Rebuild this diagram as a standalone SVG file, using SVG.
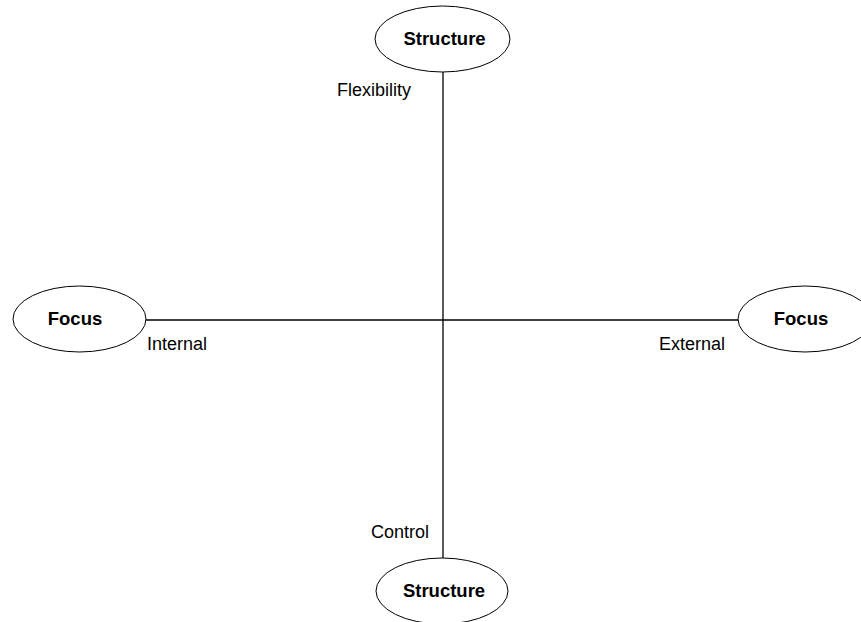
<svg xmlns="http://www.w3.org/2000/svg" width="861" height="622" viewBox="0 0 861 622">
<style>
.node{fill:#fff;stroke:#000;stroke-width:1}
.b{font-family:"Liberation Sans",Arial,sans-serif;font-weight:bold;font-size:18.5px;text-anchor:middle;fill:#000}
.l{font-family:"Liberation Sans",Arial,sans-serif;font-size:18px;fill:#000}
.c{stroke:#000;stroke-width:1.3;fill:none}
</style>
<rect width="861" height="622" fill="#fff"/>
<g id="connectors">
<line class="c" x1="443" y1="72" x2="443" y2="558"/>
<line class="c" x1="146" y1="320" x2="738" y2="320"/>
</g>
<g id="structure-top">
<ellipse class="node" cx="442.5" cy="39" rx="67.5" ry="33"/>
<text class="b" x="444.5" y="45">Structure</text>
</g>
<g id="focus-left">
<ellipse class="node" cx="79.5" cy="319" rx="66.5" ry="33"/>
<text class="b" x="75" y="325">Focus</text>
</g>
<g id="focus-right">
<ellipse class="node" cx="805" cy="319" rx="67" ry="33"/>
<text class="b" x="801" y="325">Focus</text>
</g>
<g id="structure-bottom">
<ellipse class="node" cx="442" cy="591" rx="66" ry="33"/>
<text class="b" x="444" y="597">Structure</text>
</g>
<g id="labels">
<text class="l" x="337" y="96">Flexibility</text>
<text class="l" x="147" y="350">Internal</text>
<text class="l" x="659" y="350">External</text>
<text class="l" x="371" y="538">Control</text>
</g>
</svg>
